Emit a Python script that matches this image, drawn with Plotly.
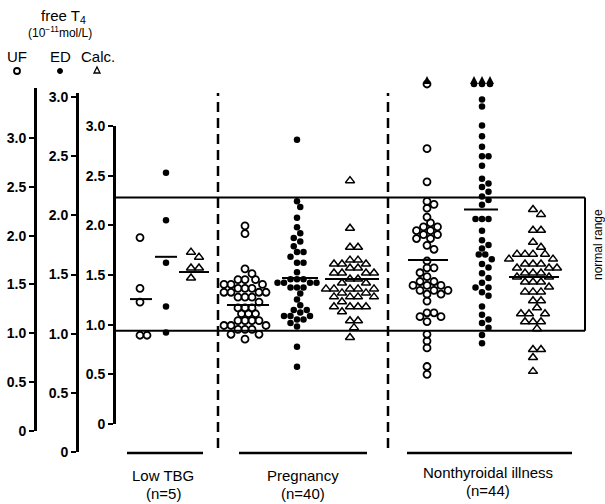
import plotly.graph_objects as go

W, H = 605, 504

# ---------------- data ----------------
group_names = ["Low TBG", "Pregnancy", "Nonthyroidal illness"]
group_counts = ["(n=5)", "(n=40)", "(n=44)"]

tick_vals = [0, 0.5, 1.0, 1.5, 2.0, 2.5, 3.0]
tick_text = ["0", "0.5", "1.0", "1.5", "2.0", "2.5", "3.0"]

# UF (open circles), units 10^-11 mol/L on UF axis
uf_low_tbg = [1.98, 1.46, 1.32, 0.98, 0.98]
uf_pregnancy = [2.10, 2.02, 1.66, 1.61, 1.55, 1.55, 1.55, 1.50, 1.50, 1.50,
                1.46, 1.46, 1.46, 1.42, 1.42, 1.42, 1.42, 1.37, 1.37, 1.37,
                1.32, 1.26, 1.26, 1.26, 1.20, 1.20, 1.20, 1.13, 1.13, 1.13,
                1.13, 1.08, 1.08, 1.08, 1.04, 1.04, 1.04, 0.99, 0.99, 0.94]
uf_nti = [2.89, 2.55, 2.35, 2.32, 2.28, 2.19, 2.13, 2.09, 2.09, 2.05, 2.05,
          2.01, 2.01, 1.97, 1.97, 1.90, 1.86, 1.74, 1.67, 1.67, 1.62, 1.58,
          1.53, 1.53, 1.49, 1.49, 1.49, 1.44, 1.44, 1.44, 1.40, 1.40, 1.33,
          1.21, 1.21, 1.17, 1.17, 1.12, 0.99, 0.92, 0.85, 0.66, 0.58]
uf_nti_offscale = 1

# ED (filled dots)
ed_low_tbg = [2.36, 1.96, 1.60, 1.23, 1.01]
ed_pregnancy = [2.64, 2.12, 2.07, 1.98, 1.90, 1.85, 1.81, 1.78, 1.74, 1.69,
                1.69, 1.65, 1.60, 1.60, 1.52, 1.46, 1.46, 1.46, 1.43, 1.43,
                1.43, 1.43, 1.39, 1.39, 1.39, 1.34, 1.29, 1.24, 1.20, 1.20,
                1.18, 1.15, 1.15, 1.15, 1.12, 1.12, 1.09, 1.06, 0.89, 0.72]
ed_nti = [2.98, 2.92, 2.76, 2.67, 2.58, 2.50, 2.50, 2.42, 2.31, 2.27, 2.24,
          2.20, 2.16, 2.13, 2.09, 1.97, 1.97, 1.97, 1.87, 1.79, 1.75, 1.72,
          1.67, 1.67, 1.63, 1.59, 1.56, 1.51, 1.47, 1.43, 1.39, 1.39, 1.35,
          1.32, 1.23, 1.16, 1.12, 1.09, 1.05, 0.99, 0.92]
ed_nti_offscale = 3

# Calculated (open triangles)
calc_low_tbg = [1.73, 1.68, 1.57, 1.57, 1.47]
calc_pregnancy = [2.45, 1.97, 1.78, 1.78, 1.65, 1.65, 1.61, 1.61, 1.61, 1.57,
                  1.57, 1.52, 1.52, 1.52, 1.52, 1.46, 1.46, 1.42, 1.42, 1.36,
                  1.36, 1.36, 1.36, 1.36, 1.32, 1.32, 1.28, 1.28, 1.28, 1.28,
                  1.23, 1.18, 1.18, 1.18, 1.18, 1.13, 1.04, 1.04, 0.97, 0.87]
calc_nti = [2.16, 2.11, 1.95, 1.95, 1.83, 1.78, 1.71, 1.71, 1.71, 1.71, 1.66,
            1.66, 1.61, 1.61, 1.61, 1.57, 1.57, 1.57, 1.52, 1.52, 1.52, 1.48,
            1.48, 1.43, 1.43, 1.43, 1.38, 1.33, 1.33, 1.33, 1.24, 1.24, 1.17,
            1.11, 1.11, 1.11, 1.03, 1.03, 1.03, 0.96, 0.75, 0.75, 0.67, 0.53]

uf_means = [1.35, 1.29, 1.75]
ed_means = [1.65, 1.47, 2.05]
calc_means = [1.53, 1.46, 1.48]

normal_range_calc = [0.94, 2.28]

# ---------------- layout constants (pixels) ----------------
AX = {
    "uf":   dict(name="y",  ref="yaxis",  x=35,  zero=431, scale=97.7,  top=88),
    "ed":   dict(name="y2", ref="yaxis2", x=77,  zero=452, scale=118.3, top=93),
    "calc": dict(name="y3", ref="yaxis3", x=114, zero=424, scale=99.33, top=126),
}
# hidden companion axes (same scale, extended upward) for off-scale marks
EXT = {"uf": dict(name="y4", ref="yaxis4"), "ed": dict(name="y5", ref="yaxis5")}
COL_X = {"uf": [140, 245, 427], "ed": [166, 297, 482], "calc": [191, 350, 533]}
MEAN_HALF = {"uf": [11, 21, 20], "ed": [11, 18, 17], "calc": [15, 27, 25]}
MEAN_SHIFT = {"uf": [1, 3, 1], "ed": [0, 3, -1], "calc": [3, 2, 1]}
OFF_MARK_PX, OFF_ARROW_PX = 84, 76

FONT = "Liberation Sans, Arial, Helvetica, sans-serif"
CLEAR = "rgba(0,0,0,0)"


def px_x(p):
    return p / W


def px_y(p):
    return 1 - p / H


def swarm_offsets(pys, d):
    order = sorted(range(len(pys)), key=lambda i: pys[i])
    placed = []
    offs = [0.0] * len(pys)
    steps = [0]
    for k in range(1, 40):
        steps += [k, -k]
    for i in order:
        dx = 0.0
        for s in steps:
            dx = s * d / 2.0
            if all((dx - qx) ** 2 + (pys[i] - qy) ** 2 >= (d * 0.97) ** 2
                   for qx, qy in placed):
                break
        placed.append((dx, pys[i]))
        offs[i] = dx
    return offs


fig = go.Figure()

uf_marker = dict(symbol="circle-open", size=7, color="black",
                 line=dict(width=1.8, color="black"))
ed_marker = dict(symbol="circle", size=6.5, color="black")
calc_marker = dict(symbol="triangle-up-open", size=8, color="black",
                   line=dict(width=1.5, color="black"))

series = {
    "uf": ([uf_low_tbg, uf_pregnancy, uf_nti], uf_marker, 7.0),
    "ed": ([ed_low_tbg, ed_pregnancy, ed_nti], ed_marker, 6.5),
    "calc": ([calc_low_tbg, calc_pregnancy, calc_nti], calc_marker, 8.0),
}

for key, (groups, marker, d) in series.items():
    a = AX[key]
    for gi, vals in enumerate(groups):
        pys = [a["zero"] - v * a["scale"] for v in vals]
        offs = swarm_offsets(pys, d)
        xs = [COL_X[key][gi] + o for o in offs]
        fig.add_trace(go.Scatter(x=xs, y=vals, mode="markers", yaxis=a["name"],
                                 marker=marker, cliponaxis=False,
                                 hoverinfo="skip", showlegend=False))

# mean lines
for key, means in (("uf", uf_means), ("ed", ed_means), ("calc", calc_means)):
    a = AX[key]
    for gi, m in enumerate(means):
        c = COL_X[key][gi] + MEAN_SHIFT[key][gi]
        hw = MEAN_HALF[key][gi]
        fig.add_trace(go.Scatter(x=[c - hw, c + hw], y=[m, m], mode="lines",
                                 yaxis=a["name"], line=dict(color="black", width=2),
                                 cliponaxis=False, hoverinfo="skip", showlegend=False))

# off-scale values (marks with arrows above the scale)
for key, count, marker, sp in (("uf", uf_nti_offscale, uf_marker, 7),
                               ("ed", ed_nti_offscale, ed_marker, 8)):
    a = AX[key]
    y_mark = (a["zero"] - OFF_MARK_PX) / a["scale"]
    y_arrow = (a["zero"] - OFF_ARROW_PX) / a["scale"]
    xs = [COL_X[key][2] + (i - (count - 1) / 2) * sp for i in range(count)]
    fig.add_trace(go.Scatter(x=xs, y=[y_mark] * count, mode="markers",
                             yaxis=EXT[key]["name"], cliponaxis=False,
                             showlegend=False, hoverinfo="skip", marker=marker))
    fig.add_trace(go.Scatter(x=xs, y=[y_arrow] * count, mode="markers",
                             yaxis=EXT[key]["name"], cliponaxis=False,
                             showlegend=False, hoverinfo="skip",
                             marker=dict(symbol="arrow-up", size=8, color="black")))

# ---------------- axes ----------------
layout_axes = {}
for key, a in AX.items():
    layout_axes[a["ref"]] = dict(
        domain=[px_y(a["zero"]), px_y(a["top"])],
        range=[0, (a["zero"] - a["top"]) / a["scale"]],
        anchor="free", position=px_x(a["x"]), automargin=False,
        showline=True, linewidth=3, linecolor="black",
        ticks="outside", ticklen=5, tickwidth=2, tickcolor="black",
        tickvals=tick_vals, ticktext=tick_text,
        tickfont=dict(family=FONT, size=14, color="black", weight="bold"),
        showgrid=False, zeroline=False, fixedrange=True,
    )
for key, e in EXT.items():
    a = AX[key]
    layout_axes[e["ref"]] = dict(
        domain=[px_y(a["zero"]), 1],
        range=[0, a["zero"] / a["scale"]],
        anchor="free", position=px_x(a["x"]), automargin=False,
        visible=False, showgrid=False, zeroline=False, fixedrange=True,
    )

shapes = []
# normal range box
nr_lo, nr_hi = normal_range_calc
for v in (nr_lo, nr_hi):
    shapes.append(dict(type="line", xref="x", yref="y3", x0=AX["calc"]["x"], x1=585,
                       y0=v, y1=v, line=dict(color="black", width=2)))
shapes.append(dict(type="line", xref="x", yref="y3", x0=585, x1=585, y0=nr_lo, y1=nr_hi,
                   line=dict(color="black", width=2)))
# dashed separators
for xs in (218, 388):
    shapes.append(dict(type="line", xref="x", yref="paper", x0=xs, x1=xs,
                       y0=px_y(448), y1=px_y(93),
                       line=dict(color="black", width=2.5, dash="10px,6px")))
# group base lines
for x0, x1 in ((127, 203), (239, 367), (407, 572)):
    shapes.append(dict(type="line", xref="x", yref="paper", x0=x0, x1=x1,
                       y0=px_y(453), y1=px_y(453), line=dict(color="black", width=2.5)))
# legend keys
shapes.append(dict(type="circle", xref="paper", yref="paper",
                   x0=px_x(14), x1=px_x(20), y0=px_y(74), y1=px_y(68),
                   line=dict(color="black", width=1.8)))
shapes.append(dict(type="circle", xref="paper", yref="paper",
                   x0=px_x(57.5), x1=px_x(62.5), y0=px_y(73.5), y1=px_y(68.5),
                   fillcolor="black", line=dict(color="black", width=1)))
shapes.append(dict(type="path", xref="paper", yref="paper",
                   path=f"M {px_x(94)},{px_y(73)} L {px_x(100)},{px_y(73)} L {px_x(97)},{px_y(67)} Z",
                   line=dict(color="black", width=1.3)))

annotations = []


def txt(t, x, y, size=14, angle=0, weight="normal"):
    annotations.append(dict(text=t, x=px_x(x), y=px_y(y), xref="paper", yref="paper",
                            showarrow=False, xanchor="center", yanchor="middle",
                            textangle=angle,
                            font=dict(family=FONT, size=size, color="black", weight=weight)))


txt("free T<sub>4</sub>", 63, 17, size=15)
txt("(10<sup>−11</sup>mol/L)", 60, 32, size=12)
txt("UF", 17, 56, size=15)
txt("ED", 60, 56, size=15)
txt("Calc.", 98, 56, size=15)
txt("normal range", 598, 245, size=12, angle=-90)

label_x = [163, 303, 488]
label_y = [(475, 493), (475, 493), (472, 490)]
for gi in range(3):
    txt(group_names[gi], label_x[gi], label_y[gi][0], size=15)
    txt(group_counts[gi], label_x[gi], label_y[gi][1], size=15)

fig.update_layout(
    width=W, height=H, autosize=False,
    margin=dict(l=0, r=0, t=0, b=0, pad=0),
    paper_bgcolor="white", plot_bgcolor=CLEAR,
    xaxis=dict(range=[0, W], domain=[0, 1], visible=False, fixedrange=True,
               automargin=False),
    showlegend=False,
    shapes=shapes,
    annotations=annotations,
    **layout_axes,
)

page_fix = (
    "document.documentElement.style.margin='0';"
    "document.body.style.margin='0';document.body.style.padding='0';"
    "document.documentElement.style.overflow='hidden';"
    "document.body.style.overflow='hidden';"
    "var gd=document.getElementById('{plot_id}');"
    "Plotly.relayout(gd,{width:%d,height:%d});" % (W, H)
)

fig.write_html("out.html", config={"responsive": False, "displayModeBar": False},
               post_script=page_fix)
